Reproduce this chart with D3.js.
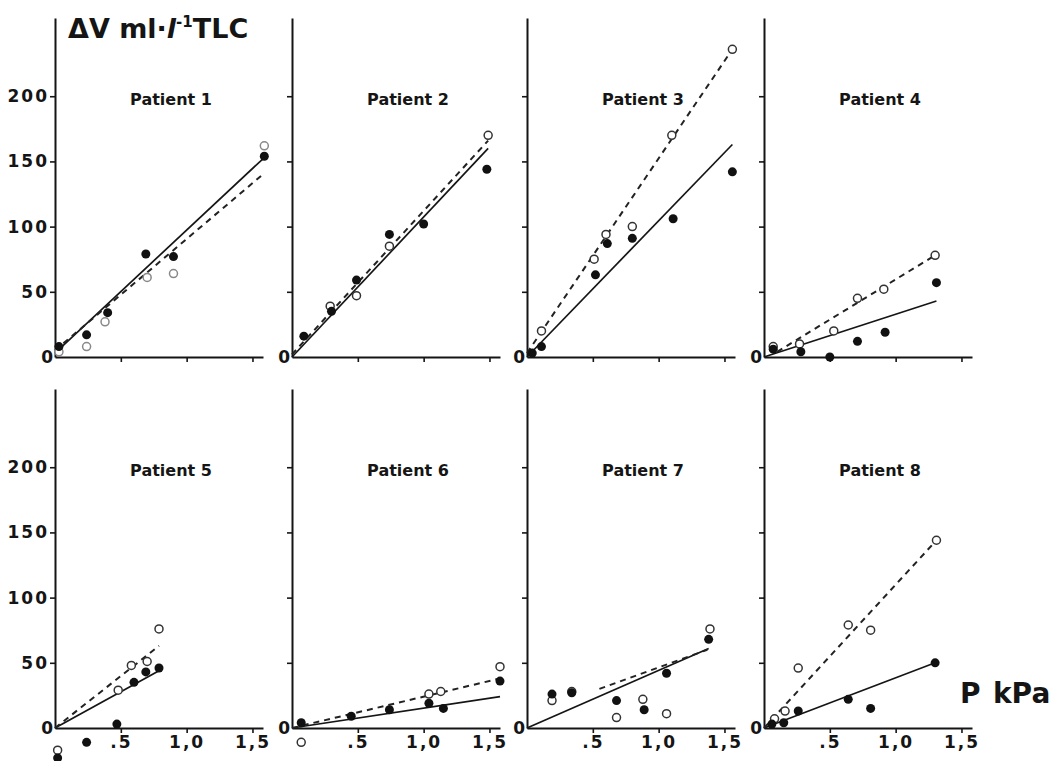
<!DOCTYPE html>
<html>
<head>
<meta charset="utf-8">
<script src="https://cdn.jsdelivr.net/npm/d3@7"></script>
<style>
  body { margin: 0; background: #fff; }
  text { font-family: "DejaVu Sans", sans-serif; font-weight: bold; fill: #151515; }
</style>
</head>
<body>
<script>
var titles = ["Patient  1", "Patient  2", "Patient  3", "Patient  4",
              "Patient  5", "Patient  6", "Patient  7", "Patient  8"];

var yTicks = [50, 100, 150, 200];
var xTicks = [0.5, 1.0, 1.5];
var xTickLabels = [".5", "1,0", "1,5"];

// [P kPa, dV ml/l TLC]
var filledPoints = [
    [[0.03, 8], [0.24, 17], [0.40, 34], [0.69, 79], [0.90, 77], [1.59, 154]],
    [[0.09, 16], [0.30, 35], [0.49, 59], [0.74, 94], [1.00, 102], [1.48, 144]],
    [[0.04, 3], [0.11, 8], [0.52, 63], [0.61, 87], [0.80, 91], [1.11, 106], [1.56, 142]],
    [[0.07, 6], [0.28, 4], [0.50, 0], [0.71, 12], [0.92, 19], [1.31, 57]],
    [[0.02, -23], [0.24, -11], [0.47, 3], [0.60, 35], [0.69, 43], [0.79, 46]],
    [[0.07, 4], [0.45, 9], [0.74, 14], [1.04, 19], [1.15, 15], [1.58, 36]],
    [[0.19, 26], [0.34, 27], [0.68, 21], [0.89, 14], [1.06, 42], [1.38, 68]],
    [[0.06, 3], [0.15, 4], [0.26, 13], [0.64, 22], [0.81, 15], [1.30, 50]]
];
var openPoints = [
    [[0.03, 4], [0.24, 8], [0.38, 27], [0.70, 61], [0.90, 64], [1.59, 162]],
    [[0.29, 39], [0.49, 47], [0.74, 85], [1.49, 170]],
    [[0.11, 20], [0.51, 75], [0.60, 94], [0.80, 100], [1.10, 170], [1.56, 236]],
    [[0.07, 8], [0.27, 10], [0.53, 20], [0.71, 45], [0.91, 52], [1.30, 78]],
    [[0.02, -17], [0.48, 29], [0.58, 48], [0.70, 51], [0.79, 76]],
    [[0.07, -11], [1.04, 26], [1.13, 28], [1.58, 47]],
    [[0.19, 21], [0.34, 28], [0.68, 8], [0.88, 22], [1.06, 11], [1.39, 76]],
    [[0.08, 7], [0.16, 13], [0.26, 46], [0.64, 79], [0.81, 75], [1.31, 144]]
];
// regression lines [x0, y0, x1, y1]
var solidFits = [
    [0, 3, 1.59, 153], [0, 0, 1.49, 160], [0, 0, 1.56, 163], [0, 0, 1.31, 43],
    [0, 0, 0.79, 44], [0, 0, 1.58, 24], [0, 0, 1.38, 61], [0, 0, 1.30, 50]
];
var dashedFits = [
    [0, 5, 1.59, 141], [0, 2, 1.49, 166], [0, 3, 1.56, 236], [0.1, 4, 1.30, 78],
    [0, 0, 0.79, 63], [0, 0, 1.58, 38], [0.55, 30, 1.37, 60], [0, 0, 1.31, 144]
];

var width = 1057, height = 761;
var colX = [55, 292, 527, 764];
var rowY = [357, 728];
var plotW = 208, plotH = 339;

var svg = d3.select("body").append("svg")
    .attr("width", width)
    .attr("height", height);

titles.forEach(function(title, i) {
    var col = i % 4, row = Math.floor(i / 4);
    var ox = colX[col], oy = rowY[row];

    var x = d3.scaleLinear().domain([0, 1.58]).range([ox, ox + plotW]);
    var y = d3.scaleLinear().domain([0, 260]).range([oy, oy - plotH]);

    var g = svg.append("g").attr("class", "panel");

    var xAxis = g.append("g")
        .attr("transform", "translate(0," + oy + ")")
        .call(d3.axisBottom(x)
            .tickValues(xTicks)
            .tickSizeInner(5)
            .tickSizeOuter(0)
            .tickFormat(function(d, k) { return row == 1 ? xTickLabels[k] : ""; }));

    var yAxis = g.append("g")
        .attr("transform", "translate(" + ox + ",0)")
        .call(d3.axisLeft(y)
            .tickValues(yTicks)
            .tickSizeInner(5)
            .tickSizeOuter(0)
            .tickFormat(col == 0 ? d3.format("d") : ""));

    [xAxis, yAxis].forEach(function(a) {
        a.select(".domain").attr("stroke", "#151515").attr("stroke-width", 2);
        a.selectAll(".tick line").attr("stroke", "#151515").attr("stroke-width", 1.6);
        a.selectAll(".tick text")
            .style("font-size", "17px")
            .style("letter-spacing", "2px")
            .attr("fill", "#151515");
    });
    yAxis.selectAll(".tick text").attr("x", -6);

    g.append("text")
        .attr("x", ox - 2)
        .attr("y", oy)
        .attr("dy", "0.36em")
        .attr("text-anchor", "end")
        .style("font-size", "17px")
        .text("0");

    g.append("text")
        .attr("x", ox + 116)
        .attr("y", oy - 252)
        .attr("text-anchor", "middle")
        .style("font-size", "16px")
        .text(title);

    var s = solidFits[i];
    g.append("line")
        .attr("x1", x(s[0])).attr("y1", y(s[1]))
        .attr("x2", x(s[2])).attr("y2", y(s[3]))
        .attr("stroke", "#151515")
        .attr("stroke-width", 1.7);

    var d = dashedFits[i];
    g.append("line")
        .attr("x1", x(d[0])).attr("y1", y(d[1]))
        .attr("x2", x(d[2])).attr("y2", y(d[3]))
        .attr("stroke", "#222")
        .attr("stroke-width", 2)
        .attr("stroke-dasharray", "6,5");

    g.selectAll(".open")
        .data(openPoints[i])
        .enter().append("circle")
        .attr("class", "open")
        .attr("cx", function(p) { return x(p[0]); })
        .attr("cy", function(p) { return y(p[1]); })
        .attr("r", 4)
        .attr("fill", "#fff")
        .attr("stroke", i == 0 ? "#888" : "#333")
        .attr("stroke-width", 1.5);

    g.selectAll(".filled")
        .data(filledPoints[i])
        .enter().append("circle")
        .attr("class", "filled")
        .attr("cx", function(p) { return x(p[0]); })
        .attr("cy", function(p) { return y(p[1]); })
        .attr("r", 4.5)
        .attr("fill", "#111");
});

// y axis title
var yLabel = svg.append("text")
    .attr("x", 68)
    .attr("y", 38)
    .style("font-size", "27px");
yLabel.append("tspan").text("\u0394V ml\u00b7");
yLabel.append("tspan").style("font-style", "italic").text("l");
yLabel.append("tspan").attr("dy", -11).style("font-size", "15px").text("-1");
yLabel.append("tspan").attr("dy", 11).text("TLC");

// x axis title
svg.append("text")
    .attr("x", 960)
    .attr("y", 703)
    .style("font-size", "28px")
    .text("P");
svg.append("text")
    .attr("x", 993)
    .attr("y", 703)
    .style("font-size", "28px")
    .text("kPa");
</script>
</body>
</html>
